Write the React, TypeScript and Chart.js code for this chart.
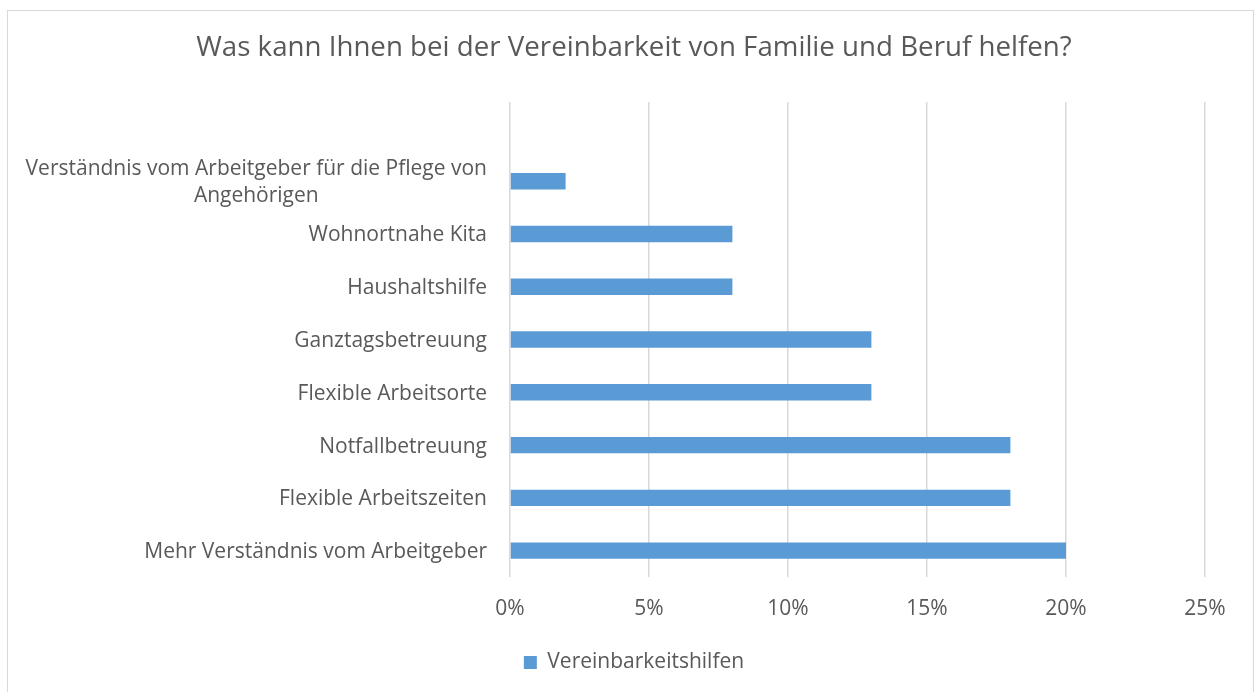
import React, { useEffect, useRef } from "react";
import { Chart, registerables } from "chart.js";

Chart.register(...registerables);

const chartTitle = "Was kann Ihnen bei der Vereinbarkeit von Familie und Beruf helfen?";
const seriesName = "Vereinbarkeitshilfen";
const categories: (string | string[])[] = [
  "",
  ["Verständnis vom Arbeitgeber für die Pflege von", "Angehörigen"],
  "Wohnortnahe Kita",
  "Haushaltshilfe",
  "Ganztagsbetreuung",
  "Flexible Arbeitsorte",
  "Notfallbetreuung",
  "Flexible Arbeitszeiten",
  "Mehr Verständnis vom Arbeitgeber",
];
const values: (number | null)[] = [null, 2, 8, 8, 13, 13, 18, 18, 20];
const xMin = 0;
const xMax = 25;
const xStep = 5;

const FONT = "'Open Sans', 'Noto Sans', sans-serif";
const TEXT = "#595959";
const GRID = "#d9d9d9";
const BAR = "#5B9BD5";
const PAD_L = 63;
const PAD_R = 50;

const yLabelPlugin = {
  id: "yLabels",
  afterDraw(chart: any) {
    const scale = chart.scales.y;
    const ctx = chart.ctx;
    ctx.save();
    ctx.font = `21px ${FONT}`;
    ctx.fillStyle = TEXT;
    ctx.textBaseline = "middle";
    ctx.textAlign = "center";
    const right = chart.chartArea.left - 23;
    const lh = 27;
    categories.forEach((lab, i) => {
      const lines = Array.isArray(lab) ? lab : [lab];
      if (!lines.join("")) return;
      const maxW = Math.max(...lines.map((l) => ctx.measureText(l).width));
      const cx = right - maxW / 2;
      const yc = scale.getPixelForValue(i) + 1.5;
      const y0 = yc - ((lines.length - 1) * lh) / 2;
      lines.forEach((l, j) => ctx.fillText(l, cx, y0 + j * lh));
    });
    ctx.restore();
  },
};

export default function App() {
  const ref = useRef<HTMLCanvasElement | null>(null);
  useEffect(() => {
    if (!ref.current) return;
    const chart = new Chart(ref.current, {
      type: "bar",
      data: {
        labels: categories as any,
        datasets: [
          {
            label: seriesName,
            data: values,
            backgroundColor: BAR,
            barPercentage: 0.31,
            categoryPercentage: 1,
          },
        ],
      },
      options: {
        indexAxis: "y",
        responsive: false,
        animation: false,
        layout: { padding: { left: PAD_L, right: PAD_R, top: 0, bottom: 9 } },
        plugins: {
          title: {
            display: true,
            text: chartTitle,
            color: TEXT,
            font: { family: FONT, size: 27.7, weight: "normal" },
            padding: { top: 31.4, bottom: 37.4 },
          },
          legend: {
            display: true,
            position: "bottom",
            labels: {
              color: TEXT,
              font: { family: FONT, size: 21 },
              boxWidth: 13,
              boxHeight: 13,
              padding: 10,
            },
          },
          tooltip: { enabled: false },
        },
        scales: {
          x: {
            type: "linear",
            min: xMin,
            max: xMax,
            ticks: {
              stepSize: xStep,
              color: TEXT,
              font: { family: FONT, size: 21 },
              padding: 19.4,
              callback: (v: any) => `${v}%`,
            },
            grid: { color: GRID, lineWidth: 1.5, drawTicks: false },
            border: { display: false },
            afterFit: (s: any) => {
              s.height = 65;
            },
          },
          y: {
            ticks: { display: false },
            grid: { display: false },
            border: { display: false },
            afterFit: (s: any) => {
              s.width = 510 - PAD_L;
            },
          },
        },
      },
      plugins: [yLabelPlugin],
    });
    return () => chart.destroy();
  }, []);

  return (
    <div
      style={{
        position: "absolute",
        left: 0,
        top: 0,
        width: 1255,
        height: 692,
        overflow: "hidden",
        background: "#fff",
      }}
    >
      <div
        style={{
          position: "absolute",
          left: 7,
          top: 10,
          width: 1247,
          height: 720,
          border: `1px solid ${GRID}`,
          boxSizing: "border-box",
        }}
      />
      <canvas
        ref={ref}
        width={1255}
        height={692}
        style={{ position: "absolute", left: 0, top: 0, display: "block" }}
      />
    </div>
  );
}
